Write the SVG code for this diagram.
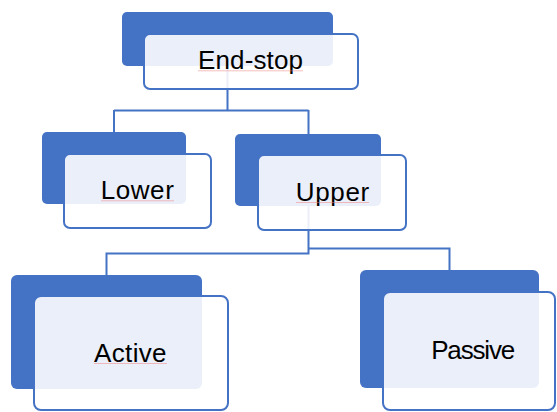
<svg xmlns="http://www.w3.org/2000/svg" width="557" height="412" viewBox="0 0 557 412">
  <style>
    .back { fill: #4472C4; }
    .front { fill: #FFFFFF; fill-opacity: 0.89; stroke: #4472C4; stroke-width: 2; }
    .link { fill: none; stroke: #4472C4; stroke-width: 2; }
    .label { font-family: "Liberation Sans", Arial, sans-serif; font-size: 26px; fill: #000000; text-anchor: middle; }
    .squiggle { stroke: #F08080; stroke-width: 1; opacity: 0.5; }
  </style>
  <rect width="557" height="412" fill="#FFFFFF"/>

  <!-- hierarchy connectors -->
  <g id="connectors">
    <path class="link" d="M227.5,66 V110.5 M114,110.5 H308.5 M114,110 V132 M308.5,110 V134"/>
    <path class="link" d="M308.5,206 V253.5 H106.5 V275"/>
    <path class="link" d="M308.5,248.5 H449.5 V270"/>
  </g>

  <g id="node-endstop">
    <rect class="back" x="122" y="12" width="211" height="54" rx="5"/>
    <rect class="front" x="144" y="34" width="214" height="55" rx="6"/>
    <text class="label" x="250.5" y="69.3" textLength="105">End-stop</text>
    <line class="squiggle" x1="198" y1="70.8" x2="303" y2="70.8"/>
  </g>

  <g id="node-lower">
    <rect class="back" x="42" y="132" width="144" height="72" rx="5"/>
    <rect class="front" x="64" y="154" width="147" height="74" rx="6"/>
    <text class="label" x="137.3" y="199.3" textLength="73">Lower</text>
    <line class="squiggle" x1="101" y1="200.8" x2="174" y2="200.8"/>
  </g>

  <g id="node-upper">
    <rect class="back" x="235" y="134" width="146" height="72" rx="5"/>
    <rect class="front" x="258" y="155" width="148" height="75" rx="6"/>
    <text class="label" x="332.5" y="201" textLength="73.5">Upper</text>
    <line class="squiggle" x1="296" y1="202.5" x2="369" y2="202.5"/>
  </g>

  <g id="node-active">
    <rect class="back" x="11" y="275" width="191" height="114" rx="6"/>
    <rect class="front" x="34" y="296" width="194" height="114" rx="7"/>
    <text class="label" x="130.3" y="362" textLength="72.5">Active</text>
    <line class="squiggle" x1="94" y1="363.5" x2="167" y2="363.5"/>
  </g>

  <g id="node-passive">
    <rect class="back" x="360" y="270" width="179" height="118" rx="6"/>
    <rect class="front" x="383" y="292" width="172" height="118" rx="7"/>
    <text class="label" x="473.2" y="359.3" textLength="84">Passive</text>
  </g>
</svg>
